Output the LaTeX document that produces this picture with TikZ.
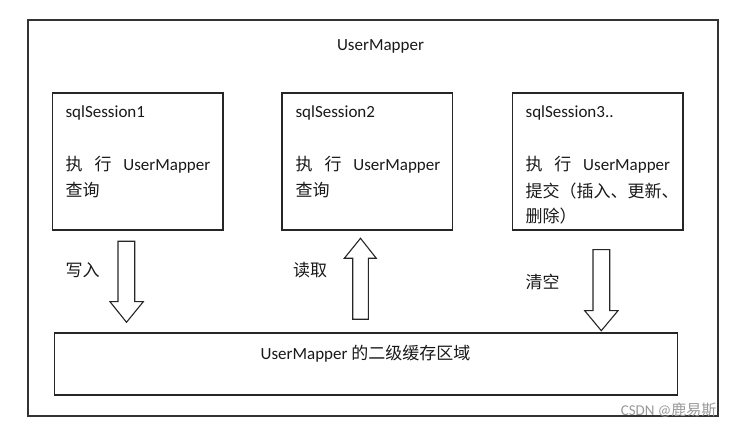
\documentclass[tikz,border=0pt]{standalone}
\usepackage{fontspec}
\setmainfont{Carlito}
\newfontfamily\cjk{Noto Sans CJK SC}
\newcommand\zh[1]{{\cjk #1}}
\begin{document}
\begin{tikzpicture}[x=1pt,y=-1pt,
  line width=1.2pt,
  box/.style={draw=black!85, minimum width=#1, minimum height=137pt, inner sep=0pt},
  txt/.style={anchor=west, inner sep=0pt, text=black!90, font=\fontsize{17}{20}\selectfont},
  lbl/.style={anchor=center, inner sep=0pt, text=black!90, font=\fontsize{17}{20}\selectfont},
  blockarrow/.style={draw=black!85, fill=white, line width=1.1pt, line join=miter}
]
\useasboundingbox (0,0) rectangle (732,427);
% outer frame
\node[draw=black!80, minimum width=690pt, minimum height=396pt, inner sep=0pt] (outer) at (373,218) {};
\node[lbl] (title) at (380.5,46) {UserMapper};
% session boxes
\node[box=170.5pt] (s1) at (137.75,161.5) {};
\node[box=170.3pt] (s2) at (367.15,161.5) {};
\node[box=170.3pt] (s3) at (597.85,161.5) {};
% bottom cache box
\node[draw=black!85, minimum width=622.6pt, minimum height=62pt, inner sep=0pt] (cache) at (366,364) {};
\node[lbl] (cachetxt) at (365.5,354) {UserMapper \zh{的二级缓存区域}};
% texts box 1
\node[txt] (s1a) at (65,113) {sqlSession1};
\node[txt] (s1b) at (65,165) {\makebox[144.7pt][s]{\zh{执}\hfill\zh{行}\hfill UserMapper}};
\node[txt] (s1c) at (65,190) {\zh{查询}};
% texts box 2
\node[txt] (s2a) at (295,113) {sqlSession2};
\node[txt] (s2b) at (295,165) {\makebox[144.7pt][s]{\zh{执}\hfill\zh{行}\hfill UserMapper}};
\node[txt] (s2c) at (295,190) {\zh{查询}};
% texts box 3
\node[txt] (s3a) at (525,113) {sqlSession3..};
\node[txt] (s3b) at (525,165) {\makebox[144.5pt][s]{\zh{执}\hfill\zh{行}\hfill UserMapper}};
\node[txt] (s3c) at (525,191) {\zh{提交（插入、更新、}};
\node[txt] (s3d) at (525,216.5) {\zh{删除）}};
% arrow labels
\node[txt] (w) at (65,270.5) {\zh{写入}};
\node[txt] (r) at (292.5,270) {\zh{读取}};
\node[txt] (c) at (525,281.5) {\zh{清空}};
% block arrows
\draw[blockarrow] (118,241.3) -- (134.7,241.3) -- (134.7,301.7) -- (143.3,301.7) -- (126.5,322.3) -- (110,301.7) -- (118,301.7) -- cycle;
\draw[blockarrow] (352.7,319.3) -- (368.3,319.3) -- (368.3,258.3) -- (376.3,258.3) -- (360.5,238.3) -- (344.3,258.3) -- (352.7,258.3) -- cycle;
\draw[blockarrow] (593,249.7) -- (609.7,249.7) -- (609.7,310.7) -- (618,310.7) -- (601.3,330.7) -- (584.7,310.7) -- (593,310.7) -- cycle;
% watermark
\node[anchor=east, inner sep=0pt, text=black!40, font=\fontsize{15}{17}\selectfont] (wm) at (717,410) {CSDN @\zh{鹿易斯}};
\end{tikzpicture}
\end{document}
